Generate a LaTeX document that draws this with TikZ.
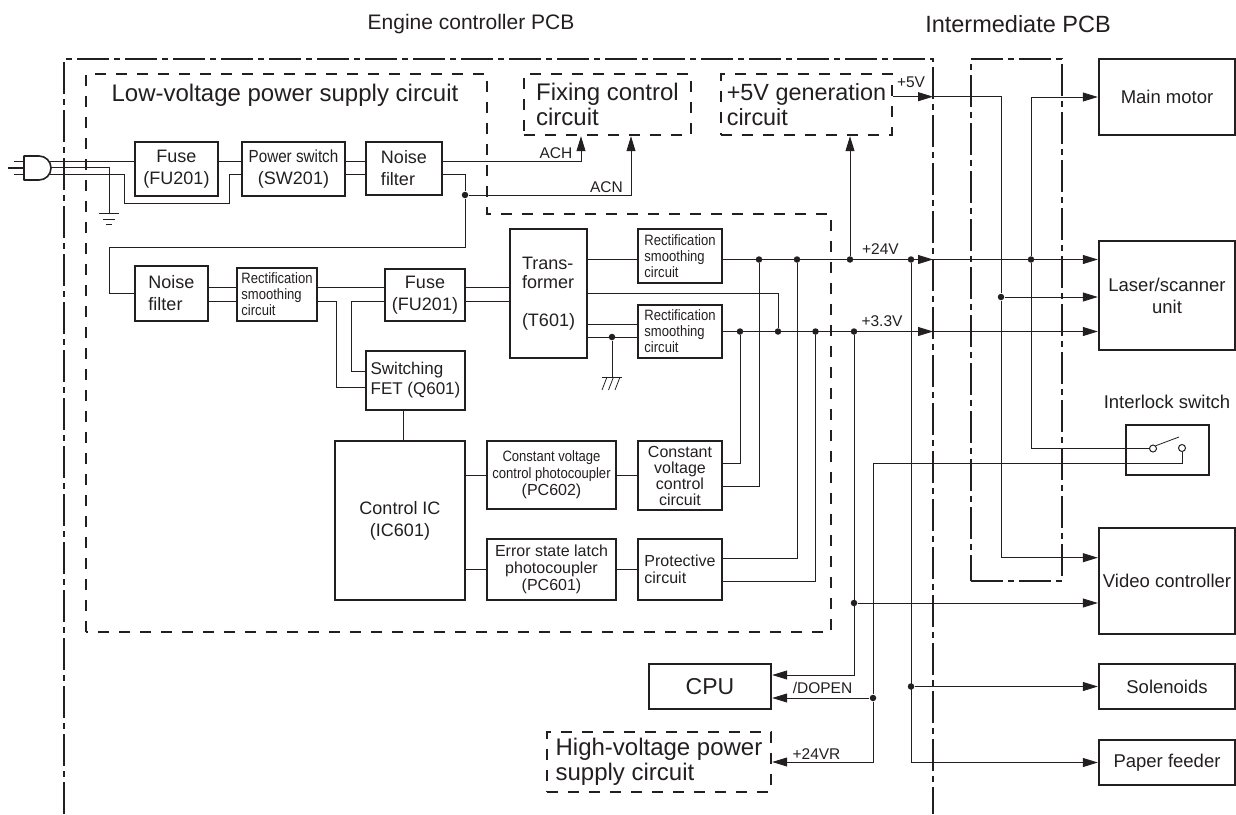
\documentclass[tikz,border=0pt]{standalone}
\usepackage{fontspec}
\setmainfont{Liberation Sans}
\newfontfamily\narrowfont[FakeStretch=0.87]{Liberation Sans}
\usetikzlibrary{arrows.meta,positioning}
\definecolor{ink}{HTML}{231F20}
\newcommand{\fsz}[2]{\fontsize{#1}{#2}\selectfont}
\newcommand{\nar}[2]{{\fsz{#1}{17}\narrowfont #2}}

\begin{document}
\begin{tikzpicture}[x=1pt, y=-1pt, ink, line width=0.8pt,
      box/.style={draw, line width=2.4pt, align=center, inner sep=0pt, text=ink, font=\fsz{18}{22}},
      lbox/.style={box, align=left},
      rbox/.style={lbox, font=\fsz{15}{16}\narrowfont},
      unit/.style={box, font=\fsz{18.5}{22}},
      dbox/.style={lbox, dash pattern=on 11pt off 10pt, font=\fsz{24}{25}},
      arr/.style={-{Triangle[length=15pt,width=9pt]}},
      dot/.style={circle, fill=ink, inner sep=0pt, minimum size=6.5pt},
      cont/.style={circle, draw, fill=white, line width=1pt, inner sep=0pt, minimum size=7pt},
      lbl/.style={text=ink, font=\fsz{15.5}{17}},
      head/.style={text=ink, font=\fsz{21}{22}},
      dline/.style={line width=2.4pt, dash pattern=on 11pt off 10pt},
      pcbline/.style={line width=2.4pt, dash pattern=on 32pt off 5pt on 6pt off 5pt}]
    \useasboundingbox (0,0) rectangle (1236,814);

    \draw[pcbline] (64,814) -- (64,59) -- (933,59) -- (933,814);
    \draw[dline] (86,632) -- (86,74) -- (487,74) -- (487,214) -- (831,214) -- (831,632) -- cycle;
    \node[box, pcbline, minimum width=91pt, minimum height=522pt] (ipcb) at (1016.5,320) {};

    \node[head] (hengine) at (471,24) {Engine controller PCB};
    \node[head, font=\fsz{23.5}{25}] (hinter) at (1018,24) {Intermediate PCB};
    \node[text=ink, font=\fsz{24}{25}] (hlow) at (285,95) {Low-voltage power supply circuit};

    \node[box, minimum width=83pt, minimum height=54pt] (fusea) at (176.5,169) {Fuse\\(FU201)};
    \node[box, minimum width=103pt, minimum height=54pt] (swa) at (293.5,169) {\nar{17.5}{Power switch}\\(SW201)};
    \node[lbox, minimum width=76pt, minimum height=53pt] (noisea) at (404,168.5) {Noise\\filter};
    \node[lbox, minimum width=73pt, minimum height=55pt] (noiseb) at (171.5,293.5) {Noise\\filter};
    \node[rbox, minimum width=80pt, minimum height=53pt] (rectb) at (277,294.5) {Rectification\\smoothing\\circuit};
    \node[box, minimum width=80pt, minimum height=52pt] (fuseb) at (425,295) {Fuse\\(FU201)};
    \node[lbox, font=\fsz{17}{20}, minimum width=99pt, minimum height=59pt] (fet) at (415.5,380.5) {Switching\\FET (Q601)};
    \node[lbox, font=\fsz{18}{19}, minimum width=77pt, minimum height=129pt] (trans) at (548.5,293.5) {Trans-\\former\\[19pt](T601)};
    \node[rbox, minimum width=84pt, minimum height=54pt] (rectc) at (680,256) {Rectification\\smoothing\\circuit};
    \node[rbox, minimum width=84pt, minimum height=53pt] (rectd) at (680,331.5) {Rectification\\smoothing\\circuit};
    \node[box, minimum width=130pt, minimum height=159pt] (ctrl) at (400,520.5) {Control IC\\(IC601)};
    \node[box, font=\fsz{16}{17}, minimum width=129pt, minimum height=68pt] (pcb) at (551.5,475) {\nar{15}{Constant voltage}\\\nar{15}{control photocoupler}\\(PC602)};
    \node[box, font=\fsz{16}{16}, minimum width=84pt, minimum height=69pt] (cvc) at (680,475.5) {Constant\\voltage\\control\\circuit};
    \node[box, font=\fsz{16}{17}, minimum width=129pt, minimum height=61pt] (pca) at (551.5,569.5) {Error state latch\\photocoupler\\(PC601)};
    \node[lbox, font=\fsz{16}{17}, minimum width=84pt, minimum height=61pt] (prot) at (680,569.5) {Protective\\circuit};
    \node[dbox, minimum width=167pt, minimum height=61pt] (fix) at (607.5,104.5) {Fixing control\\circuit};
    \node[dbox, font=\fsz{23.4}{25}, minimum width=171pt, minimum height=61pt] (genfive) at (806.5,104.5) {+5V generation\\circuit};
    \node[box, font=\fsz{23}{25}, minimum width=122pt, minimum height=45pt] (cpu) at (710,686.5) {CPU};
    \node[dbox, minimum width=224pt, minimum height=60pt] (hv) at (659,762) {High-voltage power\\supply circuit};

    \node[unit, minimum width=136pt, minimum height=76pt] (motor) at (1167,97) {Main motor};
    \node[unit, minimum width=136pt, minimum height=109pt] (laser) at (1167,295.5) {Laser/scanner\\unit};
    \node[box, minimum width=83pt, minimum height=50pt] (lock) at (1167.5,450) {};
    \node[text=ink, font=\fsz{18.5}{20}] (locklbl) at (1167,402) {Interlock switch};
    \node[unit, minimum width=136pt, minimum height=106pt] (video) at (1167,581) {Video controller};
    \node[unit, minimum width=136pt, minimum height=45pt] (sol) at (1167,686.5) {Solenoids};
    \node[unit, minimum width=136pt, minimum height=45pt] (paper) at (1167,762.5) {Paper feeder};

    \node[lbl] (lach) at (556,153) {ACH};
    \node[lbl] (lacn) at (606.5,187) {ACN};
    \node[lbl] (lfive) at (911,82) {+5V};
    \node[lbl] (lvolt) at (880.5,249) {+24V};
    \node[lbl] (lthree) at (882,321) {+3.3V};
    \node[lbl] (ldopen) at (822.5,688) {/DOPEN};
    \node[lbl] (lvr) at (816.5,754) {+24VR};

    \coordinate (raila) at (0,161);
    \coordinate (raile) at (0,167.5);
    \coordinate (railb) at (0,174);
    \coordinate (railc) at (0,287);
    \coordinate (raild) at (0,301);
    \coordinate (railv) at (0,259.5);
    \coordinate (railt) at (0,293);
    \coordinate (railw) at (0,331.5);
    \coordinate (railg) at (0,324);
    \coordinate (railh) at (0,337);
    \coordinate (plug) at (50,167.5);
    \coordinate (gnda) at (109,213.5);
    \coordinate (gndb) at (612,377);
    \coordinate (pcbf) at (933,96.7);
    \coordinate (pcbv) at (933,259.5);
    \coordinate (pcbw) at (933,331.5);

    \node[dot] (ja) at (465,195) {};
    \node[dot] (jb) at (740,331.5) {};
    \node[dot] (jc) at (759,259.5) {};
    \node[dot] (jd) at (797,259.5) {};
    \node[dot] (je) at (815.5,331.5) {};
    \node[dot] (jf) at (778,331.5) {};
    \node[dot] (jg) at (612,337) {};
    \node[dot] (jh) at (850,259.5) {};
    \node[dot] (ji) at (854,331.5) {};
    \node[dot] (jk) at (1001,297) {};
    \node[dot] (jm) at (1031,259.5) {};
    \node[dot] (jp) at (873,698) {};
    \node[dot] (jq) at (854,603) {};
    \node[dot] (jr) at (911,259.5) {};
    \node[dot] (js) at (911,686.5) {};
    \node[cont] (sa) at (1153,448.5) {};
    \node[cont] (sb) at (1182,448) {};
    \coordinate (lever) at (1179,437);

    \draw[line width=1.6pt, line join=round] (24,156) -- (39,156) arc[start angle=-90, end angle=90, radius=12] -- (24,180) -- cycle;
    \draw (14,161.5) -- (24,161.5);
    \draw[line width=1.6pt] (8,168) -- (24,168);
    \draw (14,174.5) -- (24,174.5);
    \draw (99,213.5) -- (119,213.5);
    \draw (103,219) -- (115,219);
    \draw (106,224) -- (112,224);
    \draw (602,377) -- (622,377);
    \foreach \gx in {607,613.5,620} \draw (\gx,377) -- (\gx-5,390);

    \draw (plug |- raila) -- (fusea.west |- raila);
    \draw (plug |- raile) -| (gnda);
    \draw (plug |- railb) -- (124,174) -- (124,203) -- (229,203) -- (229,174) -- (swa.west |- railb);
    \draw (fusea.east |- raila) -- (swa.west |- raila);
    \draw (swa.east |- raila) -- (noisea.west |- raila);
    \draw (swa.east |- railb) -- (noisea.west |- railb);
    \draw[arr] (noisea.east |- raila) -| ([xshift=-26.5pt]fix.south);
    \draw (noisea.east |- railb) -| (ja);
    \draw[arr] (ja) -| ([xshift=23.5pt]fix.south);
    \draw (ja) -- (465,247) -- (109,247) -- (109,293.5) -- (noiseb.west);

    \draw (noiseb.east |- railc) -- (rectb.west |- railc);
    \draw (noiseb.east |- raild) -- (rectb.west |- raild);
    \draw (rectb.east |- railc) -- (fuseb.west |- railc);
    \draw (fuseb.east |- railc) -- (trans.west |- railc);
    \draw (fuseb.east |- raild) -- (trans.west |- raild);
    \draw (rectb.east |- raild) -- (336,301) |- ([yshift=-6.5pt]fet.west);
    \draw (fuseb.west |- raild) -- (351,301) |- ([yshift=9.5pt]fet.west);
    \draw ([xshift=-12.5pt]fet.south) -- ([xshift=3pt]ctrl.north);
    \draw (pcb.west -| ctrl.east) -- (pcb.west);
    \draw (pcb.east) -- (cvc.west |- pcb.east);
    \draw (pca.west -| ctrl.east) -- (pca.west);
    \draw (pca.east) -- (prot.west);

    \draw (trans.east |- railv) -- (rectc.west |- railv);
    \draw (trans.east |- railt) -| (jf);
    \draw (trans.east |- railg) -- (rectd.west |- railg);
    \draw (trans.east |- railh) -- (rectd.west |- railh);
    \draw (jg) -- (gndb);
    \draw ([yshift=12.5pt]cvc.east) -| (jb);
    \draw ([yshift=-10.5pt]cvc.east) -| (jc);
    \draw ([yshift=11.5pt]prot.east) -| (jd);
    \draw ([yshift=-11.5pt]prot.east) -| (je);

    \draw[arr] (rectc.east |- railv) -- (pcbv);
    \draw[arr] (pcbv) -- (laser.west |- railv);
    \draw[arr] (rectd.east |- railw) -- (pcbw);
    \draw[arr] (pcbw) -- (laser.west |- railw);
    \draw[arr] (jh) -- (jh |- genfive.south);
    \draw[arr] ([yshift=7.8pt]genfive.east) -- (pcbf);
    \draw[arr] (pcbf) -| (jk) |- ([yshift=23.3pt]video.west);
    \draw[arr] (jk) -- (jk -| laser.west);
    \draw[arr] (sa.west) -| (jm) |- (motor.west);
    \draw (sa.north east) -- (lever);
    \draw (sb.south) -- (1182,463) -| (jp);
    \draw[arr] (jp) -- (jp -| cpu.east);
    \draw[arr] (jp) |- (hv.east);
    \draw[arr] (ji) |- ([yshift=11.5pt]cpu.east);
    \draw[arr] (jq) -- (jq -| video.west);
    \draw[arr] (jr) |- (paper.west);
    \draw[arr] (js) -- (js -| sol.west);
\end{tikzpicture}
\end{document}
